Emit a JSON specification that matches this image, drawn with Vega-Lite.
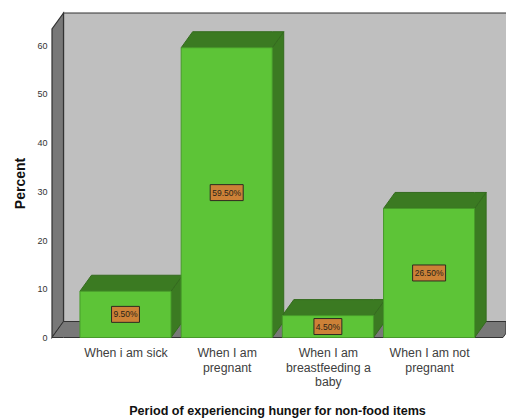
{
  "$schema": "https://vega.github.io/schema/vega-lite/v6.json",
  "width": 454,
  "height": 324.5,
  "autosize": "none",
  "padding": {"left": 52, "top": 13, "right": 0, "bottom": 80.5},
  "background": "white",
  "view": {"stroke": null},
  "datasets": {
    "periods": [
      {"period": "When i am sick", "slot": 1, "percent": 9.5},
      {"period": "When I am pregnant", "slot": 2, "percent": 59.5},
      {"period": "When I am breastfeeding a baby", "slot": 3, "percent": 4.5},
      {"period": "When I am not pregnant", "slot": 4, "percent": 26.5}
    ],
    "leftWall": [
      {"xv": 0.2737, "lo": 0, "hi": 63.35},
      {"xv": 0.3873, "lo": 3.285, "hi": 66.63}
    ],
    "floor": [
      {"xv": 0.2737, "lo": 0, "hi": 0},
      {"xv": 0.3873, "lo": 0, "hi": 3.285},
      {"xv": 4.73, "lo": 0, "hi": 3.285},
      {"xv": 4.76, "lo": 0.86, "hi": 3.285}
    ]
  },
  "encoding": {
    "x": {
      "type": "quantitative",
      "scale": {"domain": [0.2737, 4.76], "nice": false, "zero": false}
    },
    "y": {
      "type": "quantitative",
      "scale": {"domain": [0, 66.63], "nice": false}
    }
  },
  "layer": [
    {
      "description": "Back wall of the box",
      "data": {"values": [{"x0": 0.3873, "x1": 4.85, "y0": 3.285, "y1": 66.63}]},
      "mark": {"type": "rect", "fill": "#BFBFBF", "stroke": "#333333", "strokeWidth": 1.2},
      "encoding": {
        "x": {
          "field": "x0",
          "type": "quantitative",
          "title": "Period of experiencing hunger for non-food items",
          "axis": {
            "values": [1, 2, 3, 4],
            "domain": false,
            "ticks": false,
            "grid": false,
            "labelFont": "Liberation Sans",
            "labelFontSize": 12.3,
            "labelColor": "#404040",
            "labelPadding": 9,
            "labelLineHeight": 14.5,
            "labelBaseline": "top",
            "labelOverlap": false,
            "labelFlush": false,
            "labelExpr": "datum.value == 1 ? ['When i am sick'] : datum.value == 2 ? ['When I am', 'pregnant'] : datum.value == 3 ? ['When I am', 'breastfeeding a', 'baby'] : ['When I am not', 'pregnant']",
            "titleFont": "Liberation Sans",
            "titleFontSize": 12.6,
            "titleFontWeight": "bold",
            "titleColor": "#111111",
            "titleX": 225,
            "titleY": 73,
            "titleAlign": "center",
            "titleBaseline": "middle"
          }
        },
        "x2": {"field": "x1"},
        "y": {
          "field": "y0",
          "type": "quantitative",
          "title": "Percent",
          "axis": {
            "values": [0, 10, 20, 30, 40, 50, 60],
            "domain": false,
            "ticks": false,
            "grid": false,
            "labelFont": "Liberation Sans",
            "labelFontSize": 9,
            "labelColor": "#333333",
            "labelPadding": 5,
            "titleFont": "Liberation Sans",
            "titleFontSize": 14,
            "titleFontWeight": "bold",
            "titleColor": "#111111",
            "titleX": -32,
            "titleY": 170,
            "titleAlign": "center",
            "titleBaseline": "middle"
          }
        },
        "y2": {"field": "y1"}
      }
    },
    {
      "description": "Left wall",
      "data": {"name": "leftWall"},
      "mark": {"type": "area", "fill": "#787878", "stroke": "#333333", "strokeWidth": 1.2},
      "encoding": {
        "x": {"field": "xv", "type": "quantitative"},
        "y": {"field": "lo", "type": "quantitative"},
        "y2": {"field": "hi"}
      }
    },
    {
      "description": "Floor",
      "data": {"name": "floor"},
      "mark": {"type": "area", "fill": "#787878", "stroke": "#333333", "strokeWidth": 1},
      "encoding": {
        "x": {"field": "xv", "type": "quantitative"},
        "y": {"field": "lo", "type": "quantitative"},
        "y2": {"field": "hi"}
      }
    },
    {
      "description": "Right-hand faces of the bars, raised by the same depth as the box",
      "data": {"name": "periods"},
      "transform": [
        {"calculate": "[0, 1]", "as": "side"},
        {"flatten": ["side"]},
        {"calculate": "datum.slot + 0.45 + datum.side * 0.1136", "as": "xv"},
        {"calculate": "datum.side * 3.285", "as": "lo"},
        {"calculate": "datum.percent + datum.side * 3.285", "as": "hi"}
      ],
      "mark": {"type": "area", "fill": "#3B7A22", "stroke": "#346B1E", "strokeWidth": 1},
      "encoding": {
        "x": {"field": "xv", "type": "quantitative"},
        "y": {"field": "lo", "type": "quantitative"},
        "y2": {"field": "hi"},
        "detail": {"field": "period"}
      }
    },
    {
      "description": "Top faces of the bars",
      "data": {"name": "periods"},
      "transform": [
        {"calculate": "[0, 1, 2, 3]", "as": "corner"},
        {"flatten": ["corner"]},
        {"calculate": "datum.slot - 0.45 + (datum.corner == 0 ? 0 : datum.corner == 1 ? 0.1136 : datum.corner == 2 ? 0.9 : 1.0136)", "as": "xv"},
        {"calculate": "datum.percent + (datum.corner == 3 ? 3.285 : 0)", "as": "lo"},
        {"calculate": "datum.percent + (datum.corner == 0 ? 0 : 3.285)", "as": "hi"}
      ],
      "mark": {"type": "area", "fill": "#3B7A22", "stroke": "#346B1E", "strokeWidth": 1},
      "encoding": {
        "x": {"field": "xv", "type": "quantitative"},
        "y": {"field": "lo", "type": "quantitative"},
        "y2": {"field": "hi"},
        "detail": {"field": "period"}
      }
    },
    {
      "description": "Front faces of the bars",
      "data": {"name": "periods"},
      "transform": [
        {"calculate": "datum.slot - 0.45", "as": "x0"},
        {"calculate": "datum.slot + 0.45", "as": "x1"}
      ],
      "mark": {"type": "rect", "fill": "#5DC437", "stroke": "#479A2A", "strokeWidth": 1},
      "encoding": {
        "x": {"field": "x0", "type": "quantitative"},
        "x2": {"field": "x1"},
        "y": {"field": "percent", "type": "quantitative"},
        "y2": {"datum": 0}
      }
    },
    {
      "description": "Value tags centred on each bar",
      "data": {"name": "periods"},
      "transform": [
        {"calculate": "datum.percent >= 10 ? 0.163 : 0.138", "as": "half"},
        {"calculate": "datum.slot - datum.half", "as": "x0"},
        {"calculate": "datum.slot + datum.half", "as": "x1"},
        {"calculate": "datum.percent / 2 - 1.64", "as": "y0"},
        {"calculate": "datum.percent / 2 + 1.64", "as": "y1"}
      ],
      "mark": {"type": "rect", "fill": "#CC8137", "stroke": "#2E2A20", "strokeWidth": 1},
      "encoding": {
        "x": {"field": "x0", "type": "quantitative"},
        "x2": {"field": "x1"},
        "y": {"field": "y0", "type": "quantitative"},
        "y2": {"field": "y1"}
      }
    },
    {
      "description": "Value text",
      "data": {"name": "periods"},
      "transform": [
        {"calculate": "format(datum.percent, '.2f') + '%'", "as": "tag"},
        {"calculate": "datum.percent / 2", "as": "mid"}
      ],
      "mark": {"type": "text", "font": "Liberation Sans", "fontSize": 8.5, "color": "#2A2418", "align": "center", "baseline": "middle"},
      "encoding": {
        "x": {"field": "slot", "type": "quantitative"},
        "y": {"field": "mid", "type": "quantitative"},
        "text": {"field": "tag"}
      }
    }
  ]
}
